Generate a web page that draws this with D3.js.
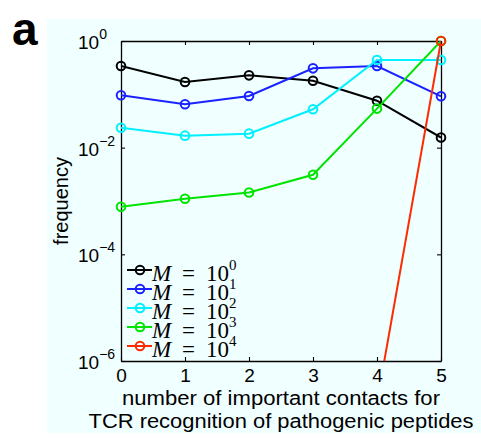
<!DOCTYPE html>
<html>
<head>
<meta charset="utf-8">
<script src="https://cdn.jsdelivr.net/npm/d3@7"></script>
<style>
  html, body { margin: 0; padding: 0; background: #fff; }
  svg { display: block; }
</style>
</head>
<body>
<svg id="chart"></svg>
<script>
// dữ liệu
const contacts = [0, 1, 2, 3, 4, 5];
const mExponents = [0, 1, 2, 3, 4];
const freqM1 = [0.34, 0.17, 0.227, 0.18, 0.076, 0.0155];
const freqM10 = [0.096, 0.065, 0.093, 0.307, 0.34, 0.092];
const freqM100 = [0.0237, 0.0168, 0.0183, 0.0524, 0.44, 0.44];
const freqM1000 = [0.00078, 0.0011, 0.00144, 0.0031, 0.054, 1];
const freqM10000 = [null, null, null, null, 1.7e-7, 1];
const yTickValues = [1, 1e-2, 1e-4, 1e-6];
const yTickExponents = ["0", "\u22122", "\u22124", "\u22126"];

(() => {
const width = 481;
const height = 438;
const plot = { left: 121, right: 441, top: 41, bottom: 361 };

const svg = d3.select("#chart")
    .attr("width", width)
    .attr("height", height);

// nền xanh nhạt
svg.append("rect")
    .attr("x", 47).attr("y", 19)
    .attr("width", width - 47).attr("height", 414)
    .attr("fill", "#f0ffff");

// chữ "a"
svg.append("text")
    .attr("x", 12).attr("y", 45)
    .style("font-family", "'Liberation Sans', Arial, sans-serif")
    .style("font-weight", "bold")
    .style("font-size", "46px")
    .text("a");

const x = d3.scaleLinear().domain([0, 5]).range([plot.left, plot.right]);
const y = d3.scaleLog().domain([1e-6, 1]).range([plot.bottom, plot.top]);

const series = [
    { values: freqM1, color: "#000000" },
    { values: freqM10, color: "#1a22ff" },
    { values: freqM100, color: "#00f0ff" },
    { values: freqM1000, color: "#00e400" },
    { values: freqM10000, color: "#ff2a00" }
];
series.forEach((s, i) => s.exp = mExponents[i]);

svg.append("clipPath").attr("id", "clip")
    .append("rect")
    .attr("x", plot.left).attr("y", plot.top)
    .attr("width", plot.right - plot.left).attr("height", plot.bottom - plot.top);

const line = d3.line()
    .defined(d => d.v != null)
    .x(d => x(d.c))
    .y(d => y(d.v));

const fontSans = "'Liberation Sans', Arial, Helvetica, sans-serif";

// trục
const styleAxis = g => {
    g.select(".domain").attr("stroke", "#000").attr("stroke-width", 1.3);
    g.selectAll(".tick line").attr("stroke", "#000").attr("stroke-width", 1.1);
};

svg.append("g")
    .attr("transform", `translate(0,${plot.bottom})`)
    .call(d3.axisBottom(x).tickValues(contacts).tickFormat(d3.format("d"))
        .tickSizeInner(-4).tickSizeOuter(0).tickPadding(8))
    .call(styleAxis)
    .call(g => g.selectAll(".tick text")
        .style("font-family", fontSans).style("font-size", "19px").attr("fill", "#000"));

svg.append("g")
    .attr("transform", `translate(0,${plot.top})`)
    .call(d3.axisTop(x).tickValues(contacts).tickSizeInner(-4).tickSizeOuter(0).tickFormat(""))
    .call(styleAxis);

svg.append("g")
    .attr("transform", `translate(${plot.right},0)`)
    .call(d3.axisRight(y).tickValues(yTickValues).tickSizeInner(-4).tickSizeOuter(0).tickFormat(""))
    .call(styleAxis);

const yAxis = svg.append("g")
    .attr("transform", `translate(${plot.left},0)`)
    .call(d3.axisLeft(y).tickValues(yTickValues).tickSizeInner(-4).tickSizeOuter(0))
    .call(styleAxis);

yAxis.selectAll(".tick text")
    .text(null)
    .attr("x", -43).attr("dy", null).attr("y", 7.5)
    .attr("text-anchor", "start")
    .attr("fill", "#000")
    .style("font-family", fontSans)
    .style("font-size", "19px")
    .each(function (d, i) {
        const t = d3.select(this);
        t.append("tspan").text("10");
        t.append("tspan").attr("dy", -10).style("font-size", "14px").text(yTickExponents[i]);
    });

// đường và điểm
series.forEach(s => {
    const pts = contacts.map((c, i) => ({ c, v: s.values[i] }));
    svg.append("path")
        .datum(pts)
        .attr("clip-path", "url(#clip)")
        .attr("fill", "none")
        .attr("stroke", s.color)
        .attr("stroke-width", 2)
        .attr("d", line);
    svg.append("g").selectAll("circle")
        .data(pts.filter(d => d.v != null && d.v >= 1e-6 && d.v <= 1))
        .join("circle")
        .attr("cx", d => x(d.c))
        .attr("cy", d => y(d.v))
        .attr("r", 4.3)
        .attr("fill", "none")
        .attr("stroke", s.color)
        .attr("stroke-width", 2);
});

// chú thích
const fontSerif = "'Liberation Serif', 'DejaVu Serif', serif";
const legend = svg.append("g");
const rows = legend.selectAll("g")
    .data(series)
    .join("g")
    .attr("transform", (d, i) => `translate(0,${270 + i * 19})`);

rows.append("line")
    .attr("x1", 127).attr("x2", 152)
    .attr("stroke", d => d.color).attr("stroke-width", 2);
rows.append("circle")
    .attr("cx", 140).attr("r", 4.3)
    .attr("fill", "none").attr("stroke", d => d.color).attr("stroke-width", 2);

const lt = rows.append("text")
    .attr("y", 11)
    .style("font-family", fontSerif)
    .style("font-size", "23px")
    .attr("fill", "#000");
lt.append("tspan").attr("x", 152).style("font-style", "italic").text("M");
lt.append("tspan").attr("x", 182).text("=");
lt.append("tspan").attr("x", 206).text("10");
lt.append("tspan").attr("x", 229).attr("dy", -11).style("font-size", "15px").text(d => d.exp);

// nhãn trục
svg.append("text")
    .attr("transform", "translate(68,201) rotate(-90)")
    .attr("text-anchor", "middle")
    .style("font-family", fontSans).style("font-size", "20px")
    .text("frequency");

svg.append("text")
    .attr("x", 281).attr("y", 405)
    .attr("text-anchor", "middle")
    .attr("textLength", 318).attr("lengthAdjust", "spacingAndGlyphs")
    .style("font-family", fontSans).style("font-size", "20px")
    .text("number of important contacts for");
svg.append("text")
    .attr("x", 281).attr("y", 428)
    .attr("text-anchor", "middle")
    .attr("textLength", 385).attr("lengthAdjust", "spacingAndGlyphs")
    .style("font-family", fontSans).style("font-size", "20px")
    .text("TCR recognition of pathogenic peptides");
})();
</script>
</body>
</html>
